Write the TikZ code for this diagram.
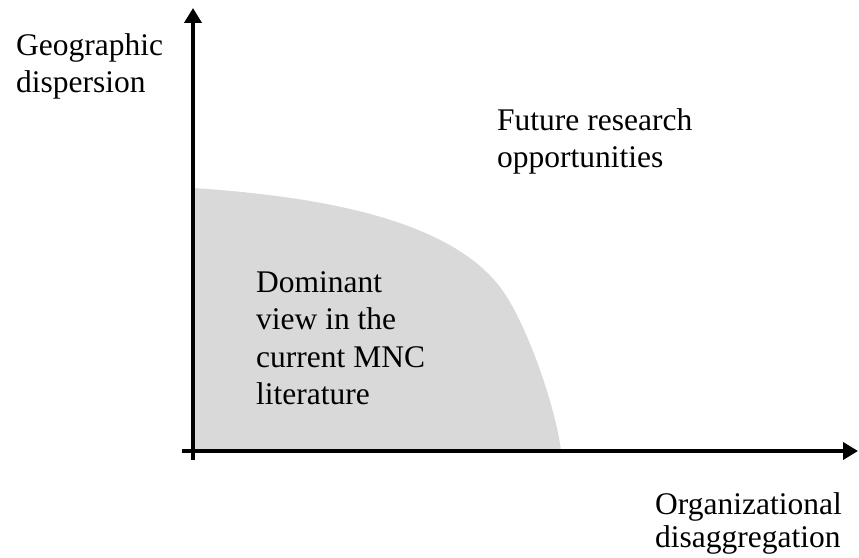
\documentclass[tikz,border=0pt]{standalone}
\usepackage{fontspec}
\setmainfont{Liberation Serif}
\usetikzlibrary{arrows.meta}
\definecolor{d9d9d9}{HTML}{D9D9D9}

\begin{document}
\begin{tikzpicture}[x=1pt,y=1pt,>={Triangle[length=15pt,width=17pt]},
    lbl/.style={inner sep=0,align=left,font=\fontsize{31.5}{37.5}\selectfont}]
    \useasboundingbox(0,0)rectangle(859,557);
    % origin and axis ends
    \coordinate(O)at(193,106);
    \coordinate(Y0)at(193,97);
    \coordinate(Y1)at(193,549);
    \coordinate(X0)at(182,106);
    \coordinate(X1)at(858,106);
    % dominant view region
    \fill[d9d9d9](O)--(193,369)..controls(330,360)and(450,335)..(500,270)..controls(525,238)and(556,150)..(561,106)--cycle;
    % axes
    \draw[->,line width=4.5pt](Y0)--(Y1);
    \draw[->,line width=4.5pt](X0)--(X1);
    % labels (base = last line)
    \node[lbl,anchor=base west](geo)at(16,464){Geographic\\dispersion};
    \node[lbl,anchor=base west](future)at(497,389){Future research\\opportunities};
    \node[lbl,anchor=base west](dominant)at(256,152){Dominant\\view in the\\current MNC\\literature};
    \node[lbl,anchor=base west,font=\fontsize{31.5}{33}\selectfont](org)at(655,10){Organizational\\disaggregation};
\end{tikzpicture}
\end{document}
